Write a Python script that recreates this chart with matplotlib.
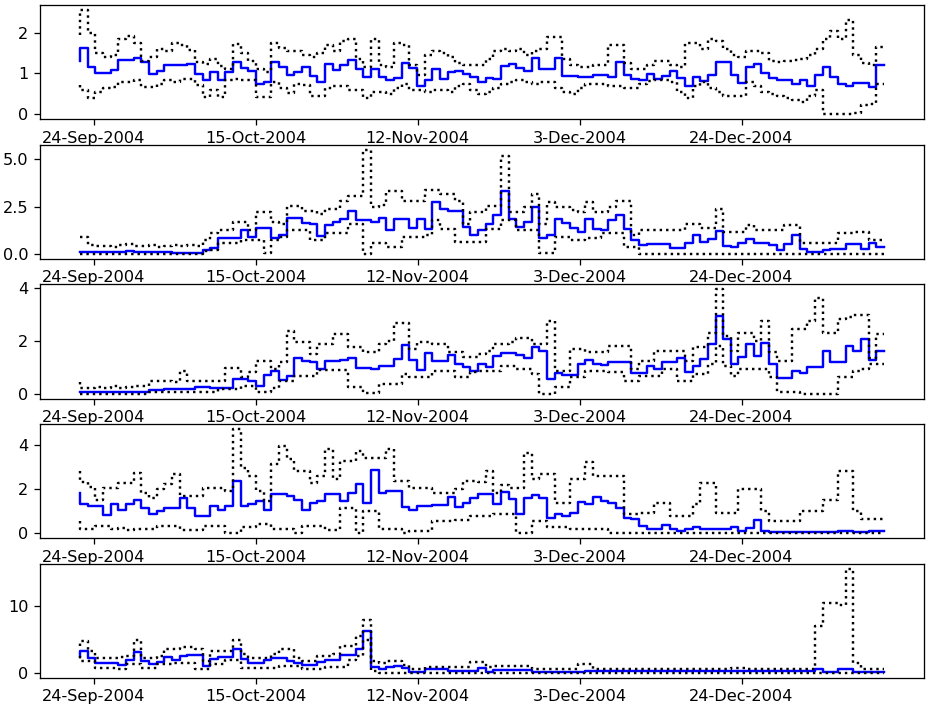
import numpy as np
import matplotlib.pyplot as plt

# sample index (irregular dates, so the axis is by observation number)
x = np.arange(106)
tick_pos = [1.8, 22.95, 44.1, 65.25, 86.4]
tick_labels = ['24-Sep-2004', '15-Oct-2004', '12-Nov-2004', '3-Dec-2004', '24-Dec-2004']

# panel 1
p1_mid = [1.31, 1.63, 1.16, 1.01, 1.01, 1.08, 1.34, 1.34, 1.37, 1.29,
          0.99, 1.07, 1.20, 1.20, 1.20, 1.24, 0.99, 0.83, 1.03, 0.83,
          1.03, 1.28, 1.13, 1.07, 0.75, 0.80, 1.27, 1.15, 0.95, 1.04,
          1.16, 0.93, 0.79, 1.23, 1.09, 1.21, 1.33, 1.11, 0.91, 1.12,
          0.91, 0.85, 0.88, 1.25, 1.13, 0.69, 0.83, 1.12, 0.87, 1.04,
          1.07, 0.99, 0.91, 0.79, 0.89, 0.87, 1.19, 1.23, 1.13, 1.05,
          1.37, 1.12, 1.12, 1.39, 0.93, 0.93, 0.92, 0.92, 0.96, 0.96,
          0.90, 1.27, 0.96, 0.87, 0.83, 0.99, 0.87, 0.93, 1.07, 0.88,
          0.69, 0.91, 0.81, 0.95, 1.27, 1.27, 0.96, 0.77, 1.15, 1.23,
          1.01, 0.89, 0.84, 0.84, 0.75, 0.85, 0.69, 0.95, 1.16, 0.91,
          0.75, 0.69, 0.77, 0.77, 0.67, 1.20]
p1_hi = [1.95, 2.55, 1.99, 1.51, 1.40, 1.45, 1.85, 1.91, 1.75, 1.31,
         1.40, 1.59, 1.55, 1.75, 1.70, 1.58, 1.27, 1.23, 1.35, 1.19,
         1.11, 1.71, 1.50, 1.30, 1.10, 1.03, 1.75, 1.62, 1.55, 1.55,
         1.45, 1.40, 1.50, 1.70, 1.55, 1.80, 1.85, 1.35, 1.15, 1.85,
         1.20, 1.15, 1.75, 1.70, 1.20, 0.95, 1.45, 1.55, 1.50, 1.40,
         1.25, 1.20, 1.20, 1.20, 1.35, 1.55, 1.60, 1.55, 1.60, 1.45,
         1.55, 1.60, 1.90, 1.90, 1.35, 1.20, 1.15, 1.15, 1.20, 1.20,
         1.70, 1.70, 1.25, 1.10, 1.10, 1.20, 1.30, 1.30, 1.20, 1.15,
         1.75, 1.75, 1.60, 1.85, 1.80, 1.60, 1.45, 1.40, 1.55, 1.55,
         1.50, 1.30, 1.28, 1.30, 1.33, 1.35, 1.45, 1.60, 1.85, 2.05,
         1.85, 2.30, 1.45, 1.25, 1.20, 1.65]
p1_lo = [0.71, 0.60, 0.40, 0.55, 0.65, 0.67, 0.79, 0.79, 0.85, 0.67,
         0.67, 0.75, 0.85, 0.80, 0.87, 0.87, 0.71, 0.43, 0.60, 0.43,
         0.85, 0.87, 0.85, 0.83, 0.43, 0.43, 0.80, 0.65, 0.51, 0.73,
         0.71, 0.45, 0.45, 0.65, 0.70, 0.70, 0.60, 0.60, 0.40, 0.55,
         0.55, 0.50, 0.65, 0.75, 0.60, 0.60, 0.55, 0.60, 0.60, 0.55,
         0.70, 0.75, 0.60, 0.50, 0.55, 0.65, 0.75, 0.80, 0.85, 0.80,
         0.75, 0.80, 0.80, 0.65, 0.55, 0.50, 0.65, 0.75, 0.75, 0.75,
         0.70, 0.68, 0.65, 0.65, 0.75, 0.82, 0.85, 0.85, 0.78, 0.55,
         0.40, 0.70, 0.78, 0.65, 0.55, 0.45, 0.45, 0.45, 0.80, 0.70,
         0.55, 0.50, 0.45, 0.40, 0.35, 0.30, 0.45, 0.60, 0.00, 0.00,
         0.00, 0.00, 0.02, 0.22, 0.25, 0.75]

# panel 2
p2_mid = [0.08, 0.08, 0.08, 0.08, 0.08, 0.08, 0.08, 0.15, 0.12, 0.08,
          0.08, 0.08, 0.08, 0.06, 0.05, 0.05, 0.05, 0.21, 0.30, 0.82,
          0.82, 0.82, 1.25, 0.90, 1.39, 1.39, 0.82, 1.00, 1.89, 1.89,
          1.65, 1.58, 0.94, 1.51, 1.68, 1.82, 2.24, 1.80, 1.80, 1.68,
          1.91, 1.25, 1.82, 1.82, 1.39, 1.82, 1.34, 2.73, 2.38, 2.29,
          2.29, 1.42, 1.00, 1.25, 1.60, 2.03, 3.33, 1.86, 1.42, 1.68,
          2.47, 0.85, 1.02, 1.86, 1.65, 1.39, 1.17, 1.82, 1.34, 1.25,
          1.77, 2.03, 1.34, 0.73, 0.47, 0.50, 0.50, 0.50, 0.30, 0.30,
          0.56, 1.00, 0.65, 0.77, 1.20, 0.42, 0.35, 0.56, 0.77, 0.56,
          0.60, 0.47, 0.21, 0.52, 1.00, 0.24, 0.12, 0.12, 0.21, 0.24,
          0.24, 0.52, 0.52, 0.28, 0.60, 0.35]
p2_hi = [0.90, 0.90, 0.45, 0.40, 0.42, 0.38, 0.45, 0.50, 0.42, 0.40,
         0.45, 0.35, 0.42, 0.48, 0.40, 0.45, 0.40, 0.73, 1.11, 1.25,
         1.25, 1.68, 1.68, 1.25, 2.20, 2.20, 1.70, 1.60, 2.55, 2.55,
         2.29, 2.29, 2.12, 2.38, 2.38, 2.81, 3.07, 3.07, 5.50, 2.47,
         2.60, 3.33, 3.33, 2.81, 2.81, 2.81, 3.40, 3.40, 3.15, 3.15,
         2.80, 1.60, 2.20, 2.20, 2.55, 2.55, 5.16, 2.20, 2.20, 2.50,
         3.15, 1.60, 2.73, 2.47, 2.47, 2.30, 2.20, 2.73, 2.20, 2.20,
         2.50, 2.81, 2.81, 0.98, 1.25, 1.25, 1.25, 1.25, 1.25, 1.25,
         1.60, 1.60, 1.35, 1.35, 2.38, 1.17, 1.17, 1.17, 1.51, 1.25,
         1.25, 1.25, 1.25, 1.51, 1.51, 0.56, 0.56, 0.56, 0.56, 0.56,
         1.08, 1.08, 1.17, 1.17, 0.73, 0.73]
p2_lo = [0.00, 0.00, 0.00, 0.00, 0.00, 0.00, 0.00, 0.00, 0.00, 0.00,
         0.00, 0.00, 0.00, 0.00, 0.00, 0.00, 0.00, 0.15, 0.20, 0.56,
         0.56, 0.56, 0.73, 0.73, 0.73, 0.05, 0.73, 0.90, 1.25, 1.25,
         1.25, 0.73, 0.73, 1.08, 1.08, 1.08, 1.60, 1.60, 0.00, 0.56,
         0.56, 0.38, 0.38, 0.90, 0.90, 0.90, 1.00, 1.77, 1.34, 1.34,
         0.65, 0.65, 0.65, 0.65, 1.34, 1.34, 1.77, 1.77, 1.25, 1.25,
         1.25, 0.03, 0.03, 0.90, 0.90, 0.73, 0.73, 0.82, 0.82, 1.08,
         1.08, 1.08, 0.38, 0.38, 0.02, 0.02, 0.02, 0.02, 0.02, 0.02,
         0.02, 0.02, 0.02, 0.02, 0.02, 0.02, 0.02, 0.02, 0.02, 0.02,
         0.02, 0.02, 0.02, 0.02, 0.02, 0.02, 0.02, 0.02, 0.02, 0.02,
         0.02, 0.02, 0.02, 0.02, 0.02, 0.02]

# panel 3
p3_mid = [0.05, 0.05, 0.05, 0.05, 0.05, 0.05, 0.05, 0.05, 0.05, 0.05,
          0.13, 0.13, 0.18, 0.18, 0.18, 0.18, 0.26, 0.24, 0.21, 0.21,
          0.21, 0.55, 0.55, 0.49, 0.30, 0.72, 0.84, 0.51, 0.68, 1.33,
          1.24, 1.18, 0.93, 1.24, 1.24, 1.28, 1.35, 0.97, 0.97, 0.93,
          1.06, 1.06, 1.31, 1.84, 1.27, 0.89, 1.52, 1.24, 1.24, 1.47,
          1.14, 0.99, 0.84, 1.14, 0.99, 1.43, 1.52, 1.52, 1.47, 1.35,
          1.75, 1.60, 0.55, 0.77, 0.70, 0.70, 1.14, 1.27, 1.14, 1.09,
          1.20, 1.21, 1.21, 0.77, 0.77, 1.06, 0.93, 1.18, 1.18, 1.35,
          0.83, 1.06, 1.31, 1.87, 2.94, 2.06, 1.11, 1.37, 1.87, 1.43,
          1.91, 1.11, 0.59, 0.59, 0.86, 0.77, 1.02, 1.02, 1.60, 1.18,
          1.18, 1.81, 1.62, 2.06, 1.27, 1.62]
p3_hi = [0.43, 0.20, 0.22, 0.25, 0.20, 0.28, 0.22, 0.25, 0.30, 0.30,
         0.49, 0.49, 0.49, 0.45, 0.87, 0.49, 0.49, 0.49, 0.49, 0.49,
         0.97, 0.97, 0.62, 0.80, 1.24, 1.24, 0.93, 1.20, 2.38, 1.94,
         1.94, 1.50, 1.87, 1.87, 2.25, 2.25, 1.75, 1.75, 1.56, 1.56,
         1.87, 2.00, 2.69, 2.69, 1.69, 1.94, 1.94, 1.87, 1.87, 1.56,
         1.56, 1.37, 1.37, 1.50, 1.62, 1.87, 1.87, 1.94, 2.12, 2.12,
         1.87, 1.87, 2.75, 0.87, 0.87, 1.69, 1.69, 1.56, 1.56, 1.56,
         1.81, 1.81, 1.81, 0.93, 1.24, 1.24, 1.62, 1.62, 1.62, 1.62,
         1.24, 1.75, 1.75, 2.31, 3.95, 2.19, 1.62, 2.31, 2.31, 2.00,
         2.75, 1.56, 1.24, 1.24, 2.44, 2.44, 2.75, 3.63, 2.31, 2.31,
         2.82, 2.90, 3.00, 3.00, 1.35, 2.25]
p3_lo = [0.00, 0.00, 0.00, 0.00, 0.00, 0.00, 0.00, 0.00, 0.00, 0.00,
         0.05, 0.05, 0.05, 0.05, 0.05, 0.05, 0.05, 0.05, 0.05, 0.17,
         0.17, 0.17, 0.30, 0.30, 0.05, 0.05, 0.20, 0.49, 0.49, 0.68,
         0.68, 0.68, 0.89, 0.89, 0.89, 0.89, 0.24, 0.24, 0.02, 0.02,
         0.36, 0.36, 0.36, 0.75, 0.62, 0.62, 0.62, 0.87, 0.87, 0.87,
         0.62, 0.62, 0.80, 0.87, 0.87, 0.87, 1.06, 1.06, 0.93, 0.93,
         0.75, 0.00, 0.00, 0.24, 0.24, 0.62, 0.62, 0.87, 0.87, 0.87,
         0.80, 0.80, 0.49, 0.49, 0.68, 0.68, 0.68, 0.93, 0.93, 0.49,
         0.49, 0.75, 0.75, 1.12, 1.81, 1.06, 0.68, 0.93, 0.93, 0.93,
         0.93, 0.62, 0.05, 0.05, 0.05, 0.00, 0.00, 0.00, 0.00, 0.00,
         0.62, 0.62, 0.87, 0.93, 1.12, 1.12]

# panel 4
p4_mid = [1.83, 1.33, 1.23, 1.23, 0.82, 1.30, 1.07, 1.30, 1.48, 1.12,
          0.88, 1.00, 1.15, 1.15, 1.58, 1.15, 0.80, 0.80, 1.23, 1.07,
          1.23, 2.36, 1.23, 1.30, 1.45, 1.03, 1.76, 1.76, 1.68, 1.48,
          1.07, 1.38, 1.45, 1.76, 1.76, 1.45, 1.83, 2.21, 1.38, 2.85,
          1.83, 1.91, 1.91, 1.18, 1.07, 1.23, 1.23, 1.26, 1.26, 1.64,
          1.18, 1.38, 1.58, 1.79, 1.79, 1.33, 1.86, 1.56, 0.85, 1.61,
          1.75, 1.61, 0.70, 0.85, 0.77, 0.92, 1.42, 1.30, 1.64, 1.45,
          1.38, 1.15, 0.70, 0.62, 0.32, 0.17, 0.17, 0.36, 0.21, 0.12,
          0.21, 0.27, 0.21, 0.20, 0.20, 0.20, 0.27, 0.09, 0.24, 0.58,
          0.12, 0.05, 0.05, 0.05, 0.05, 0.05, 0.05, 0.05, 0.05, 0.05,
          0.09, 0.09, 0.05, 0.05, 0.09, 0.09]
p4_hi = [2.82, 2.30, 2.10, 1.52, 2.06, 2.06, 2.29, 2.29, 2.74, 1.83,
         1.61, 2.00, 2.21, 2.67, 1.68, 1.68, 1.68, 2.06, 2.06, 2.06,
         1.90, 4.71, 2.97, 2.59, 1.90, 1.45, 3.12, 3.95, 3.35, 2.82,
         2.82, 2.29, 2.60, 3.80, 2.44, 3.27, 3.27, 3.73, 3.42, 3.42,
         3.40, 3.80, 2.36, 2.36, 2.06, 2.06, 2.06, 1.83, 1.83, 1.83,
         2.00, 2.36, 2.36, 2.30, 2.82, 1.83, 2.20, 2.06, 2.06, 3.65,
         2.44, 2.67, 2.67, 1.38, 1.38, 2.44, 2.44, 3.20, 2.59, 2.59,
         2.59, 2.59, 0.85, 0.85, 0.92, 0.92, 1.38, 1.38, 0.77, 0.77,
         0.77, 1.30, 2.29, 2.29, 0.92, 0.92, 0.92, 2.00, 2.00, 2.00,
         1.00, 0.55, 0.55, 0.55, 0.55, 1.00, 1.00, 1.00, 1.52, 1.52,
         2.82, 2.82, 1.00, 0.62, 0.62, 0.62]
p4_lo = [0.55, 0.18, 0.18, 0.32, 0.32, 0.18, 0.22, 0.15, 0.18, 0.20,
         0.18, 0.32, 0.32, 0.32, 0.15, 0.15, 0.15, 0.32, 0.32, 0.32,
         0.02, 0.02, 0.27, 0.27, 0.42, 0.42, 0.18, 0.18, 0.18, 0.02,
         0.32, 0.32, 0.32, 0.15, 0.15, 1.15, 1.15, 0.00, 1.00, 1.00,
         0.18, 0.18, 0.18, 0.02, 0.09, 0.09, 0.09, 0.55, 0.55, 0.55,
         0.60, 0.60, 0.77, 0.77, 0.77, 0.85, 0.85, 0.85, 0.02, 0.02,
         0.55, 0.55, 0.27, 0.27, 0.27, 0.18, 0.18, 0.18, 0.18, 0.18,
         0.00, 0.00, 0.00, 0.00, 0.00, 0.00, 0.00, 0.00, 0.00, 0.00,
         0.00, 0.00, 0.00, 0.00, 0.00, 0.00, 0.00, 0.00, 0.00, 0.00,
         0.00, 0.00, 0.00, 0.00, 0.00, 0.00, 0.00, 0.00, 0.00, 0.00,
         0.00, 0.00, 0.00, 0.00, 0.00, 0.00]

# panel 5
p5_mid = [2.55, 3.28, 2.29, 1.54, 1.54, 1.54, 1.19, 1.89, 3.18, 1.74,
          1.34, 1.64, 2.39, 1.89, 2.54, 2.69, 2.69, 1.04, 2.04, 2.39,
          2.39, 3.53, 2.14, 1.54, 1.54, 1.89, 2.19, 2.19, 1.74, 1.44,
          1.14, 1.14, 1.64, 1.89, 1.89, 2.74, 2.74, 3.63, 6.27, 0.90,
          0.55, 0.90, 1.04, 0.70, 0.20, 0.20, 0.55, 0.55, 0.55, 0.30,
          0.30, 0.30, 0.30, 0.80, 0.20, 0.40, 0.40, 0.40, 0.40, 0.40,
          0.20, 0.20, 0.20, 0.20, 0.20, 0.20, 0.20, 0.30, 0.30, 0.25,
          0.30, 0.30, 0.35, 0.30, 0.25, 0.30, 0.30, 0.30, 0.35, 0.30,
          0.30, 0.25, 0.30, 0.30, 0.35, 0.30, 0.30, 0.30, 0.25, 0.30,
          0.30, 0.30, 0.25, 0.30, 0.30, 0.35, 0.35, 0.65, 0.20, 0.20,
          0.65, 0.65, 0.15, 0.15, 0.15, 0.15]
p5_hi = [4.00, 4.78, 3.28, 2.19, 2.19, 2.30, 2.40, 2.60, 5.00, 2.29,
         2.29, 2.60, 3.53, 3.53, 3.88, 3.88, 3.60, 1.74, 3.28, 3.28,
         3.28, 5.00, 2.80, 2.29, 2.29, 2.29, 2.80, 3.53, 3.53, 2.29,
         1.74, 1.74, 2.50, 2.50, 2.80, 4.03, 4.03, 5.52, 8.00, 1.74,
         1.49, 1.74, 1.74, 1.14, 0.65, 0.65, 0.90, 0.90, 0.90, 0.90,
         0.90, 0.90, 1.69, 1.69, 0.90, 1.04, 1.04, 1.04, 1.04, 1.04,
         0.55, 0.55, 0.55, 0.55, 0.55, 0.55, 1.29, 1.29, 0.65, 0.65,
         0.65, 0.65, 0.65, 0.65, 0.65, 0.65, 0.65, 0.65, 0.65, 0.65,
         0.65, 0.65, 0.65, 0.65, 0.65, 0.65, 0.80, 0.80, 0.55, 0.55,
         0.55, 0.55, 0.55, 0.55, 0.55, 0.55, 0.55, 7.00, 10.50, 10.50,
         10.20, 15.60, 1.49, 0.55, 0.55, 0.55]
p5_lo = [2.50, 1.74, 1.74, 0.75, 0.75, 0.75, 0.65, 1.29, 1.29, 0.75,
         0.75, 1.29, 1.29, 1.54, 1.54, 1.54, 0.55, 0.55, 1.29, 1.29,
         2.00, 2.00, 0.75, 0.75, 0.75, 0.75, 0.75, 1.00, 1.00, 1.00,
         0.65, 0.65, 0.65, 0.85, 0.85, 0.85, 2.00, 2.50, 5.00, 0.30,
         0.05, 0.05, 0.05, 0.02, 0.02, 0.02, 0.02, 0.02, 0.02, 0.02,
         0.02, 0.02, 0.02, 0.02, 0.02, 0.02, 0.02, 0.02, 0.02, 0.02,
         0.02, 0.02, 0.02, 0.02, 0.02, 0.02, 0.02, 0.02, 0.02, 0.02,
         0.02, 0.02, 0.02, 0.02, 0.02, 0.02, 0.02, 0.02, 0.02, 0.02,
         0.02, 0.02, 0.02, 0.02, 0.02, 0.02, 0.02, 0.02, 0.02, 0.02,
         0.02, 0.02, 0.02, 0.02, 0.02, 0.02, 0.02, 0.02, 0.02, 0.02,
         0.02, 0.02, 0.02, 0.02, 0.02, 0.02]

panels = [(p1_mid, p1_lo, p1_hi),
          (p2_mid, p2_lo, p2_hi),
          (p3_mid, p3_lo, p3_hi),
          (p4_mid, p4_lo, p4_hi),
          (p5_mid, p5_lo, p5_hi)]

# smaller canvas at higher dpi: same pixels, larger text, fewer y ticks
fig, axes = plt.subplots(5, 1, figsize=(8.0, 6.134), dpi=115.75)
fig.subplots_adjust(left=0.043, right=0.998, top=0.993, bottom=0.045, hspace=0.22)

for ax, (mid, lo, hi) in zip(axes, panels):
    ax.step(x, mid, 'b-', where='pre')
    ax.step(x, lo, 'k:', where='pre')
    ax.step(x, hi, 'k:', where='pre')
    ax.set_xticks(tick_pos)
    ax.set_xticklabels(tick_labels)

fig.savefig('out.png')
